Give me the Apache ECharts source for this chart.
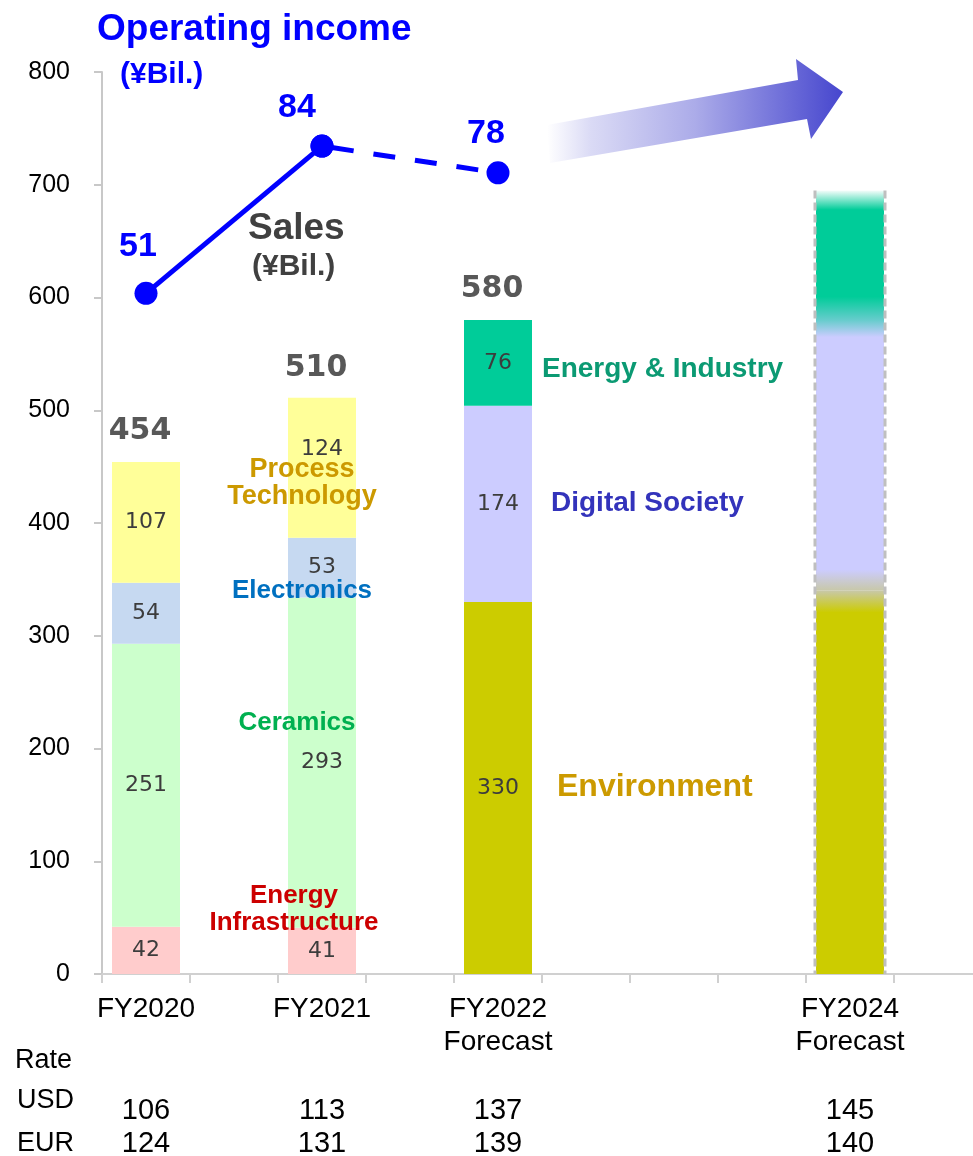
<!DOCTYPE html>
<html>
<head>
<meta charset="utf-8">
<script src="https://cdn.jsdelivr.net/npm/echarts@6/dist/echarts.min.js"></script>
<style>
  html, body { margin: 0; padding: 0; background: #fff; overflow: hidden; }
  #chart { width: 973px; height: 1156px; }
</style>
</head>
<body>
<div id="chart"></div>
<script>
// Fiscal periods (FY2023 has no figures)
const periods = ['FY2020', 'FY2021', 'FY2022\nForecast', '', 'FY2024\nForecast'];
const isForecast = [false, false, true, false, true];

// Sales by segment (¥Bil.) — former segments
const energyInfrastructure = [42, 41, null, null, null];
const ceramics = [251, 293, null, null, null];
const electronics = [54, 53, null, null, null];
const processTechnology = [107, 124, null, null, null];

// Sales by segment (¥Bil.) — new segments
const environment = [null, null, 330, null, 340];
const digitalSociety = [null, null, 174, null, 240];
const energyIndustry = [null, null, 76, null, 115];

// Reported sales totals (¥Bil.)
const salesTotal = [454, 510, 580, null, null];

// Operating income (¥Bil.)
const operatingIncome = [51, 84, 78, null, null];

// Exchange rates
const usdRate = [106, 113, 137, null, 145];
const eurRate = [124, 131, 139, null, 140];

// y-axis ticks
const salesMin = 0, salesMax = 800, salesStep = 100;

// Each period gets its own slot followed by a spacer slot
function toSlots(values, fill) {
  const out = [];
  values.forEach(v => { out.push(v); out.push(fill); });
  return out;
}

const chart = echarts.init(document.getElementById('chart'), null, { renderer: 'canvas' });

const SANS = '"Liberation Sans", Arial, sans-serif';
const VERD = '"DejaVu Sans", Verdana, sans-serif';
const BAR_W = 68;

function vFade(stops) {
  return new echarts.graphic.LinearGradient(0, 0, 0, 1,
    stops.map(s => ({ offset: s[0], color: s[1] })));
}

// Soft blended fills for the outlook bar
const outlookFill = {
  environment: vFade([[0, '#C8C8A8'], [0.057, '#CCCC00'], [1, '#CCCC00']]),
  digital: vFade([[0, '#66CCCC'], [0.063, '#CCCCFF'], [0.922, '#CCCCFF'], [1, '#C8C8A8']]),
  energy: vFade([[0, 'rgba(0,204,153,0.04)'], [0.15, '#00CC99'], [0.82, '#00CC99'], [1, '#66CCCC']])
};

const segLabel = {
  show: true, position: 'inside', color: '#3C3C3C',
  fontFamily: VERD, fontSize: 22
};

function segmentSeries(name, values, color, outlook, labelOffsets) {
  const data = values.map((v, i) => {
    if (v == null) return null;
    const item = { value: v };
    if (isForecast[i] && salesTotal[i] == null && outlook) {
      item.itemStyle = { color: outlook };
      item.label = { show: false };
    }
    if (labelOffsets && labelOffsets[i]) {
      item.label = { offset: labelOffsets[i] };
    }
    return item;
  });
  return {
    name, type: 'bar', stack: 'sales', barWidth: BAR_W,
    data: toSlots(data, null),
    itemStyle: { color },
    label: segLabel,
    z: 2
  };
}

const solidIncome = operatingIncome.map((v, i) => (i <= 1 ? v : null));
const dashedIncome = operatingIncome.map((v, i) => (i >= 1 ? v : null));

const incomeLabelOffsets = [[-8, 0], [-25, 0], [-12, 0]];
const incomeLabelDist = [18, 10, 11];

function incomeItems(values, showLabelIdx) {
  return toSlots(values.map((v, i) => {
    if (v == null) return null;
    return {
      value: v,
      label: {
        show: showLabelIdx.includes(i),
        offset: incomeLabelOffsets[i],
        distance: incomeLabelDist[i]
      }
    };
  }), null);
}

const incomeLabel = {
  position: 'top', color: '#0000FF', fontFamily: SANS,
  fontWeight: 'bold', fontSize: 34
};

// Outline around the outlook bar (periods with no reported total)
const outlineData = [];
periods.forEach((p, i) => {
  if (isForecast[i] && salesTotal[i] == null) {
    const sum = [environment, digitalSociety, energyIndustry]
      .reduce((a, arr) => a + (arr[i] || 0), 0);
    if (sum > 0) outlineData.push([i * 2, sum]);
  }
});

// Segment names written beside the bars
const segmentNotes = [
  { text: 'Process\nTechnology', x: 302, y: 483, color: '#CC9900', size: 27, lh: 27, align: 'center' },
  { text: 'Electronics', x: 302, y: 591, color: '#0070C0', size: 26, align: 'center' },
  { text: 'Ceramics', x: 297, y: 723, color: '#00B050', size: 26, align: 'center' },
  { text: 'Energy\nInfrastructure', x: 294, y: 909, color: '#CC0000', size: 26, lh: 27, align: 'center' },
  { text: 'Energy & Industry', x: 542, y: 369, color: '#0B9A73', size: 28, align: 'left' },
  { text: 'Digital Society', x: 551, y: 503, color: '#3333BB', size: 28, align: 'left' },
  { text: 'Environment', x: 557, y: 787, color: '#CC9A00', size: 32, align: 'left' }
];

const titleNotes = [
  { text: 'Operating income', x: 97, y: 30, color: '#0000FF', size: 37 },
  { text: '(¥Bil.)', x: 120, y: 75, color: '#0000FF', size: 30 },
  { text: 'Sales', x: 248, y: 229, color: '#404040', size: 37 },
  { text: '(¥Bil.)', x: 252, y: 267, color: '#404040', size: 30 },
  { text: 'Rate', x: 15, y: 1061, color: '#000000', size: 27, normal: true },
  { text: 'USD', x: 17, y: 1101, color: '#000000', size: 27, normal: true },
  { text: 'EUR', x: 17, y: 1144, color: '#000000', size: 27, normal: true }
];

const graphics = [];
segmentNotes.concat(titleNotes).forEach(n => {
  graphics.push({
    type: 'text', z: 100,
    style: {
      x: n.x, y: n.y, text: n.text, fill: n.color,
      fontFamily: SANS, fontWeight: n.normal ? 'normal' : 'bold',
      fontSize: n.size, lineHeight: n.lh || n.size + 2,
      align: n.align || 'left', verticalAlign: 'middle'
    }
  });
});

// Growth arrow toward the FY2024 outlook
graphics.push({
  type: 'polygon', z: 5,
  shape: { points: [[547, 125], [798, 80], [796, 59], [843, 92], [811, 139], [807, 119], [550, 163]] },
  style: {
    fill: new echarts.graphic.LinearGradient(0, 0, 1, 0, [
      { offset: 0, color: 'rgba(70,70,206,0)' },
      { offset: 0.15, color: 'rgba(70,70,206,0.2)' },
      { offset: 0.5, color: 'rgba(70,70,206,0.45)' },
      { offset: 1, color: 'rgba(70,70,206,1)' }
    ])
  }
});

const rateAxis = (values, offset) => ({
  type: 'category', position: 'bottom', offset,
  data: toSlots(values.map(v => (v == null ? '' : String(v))), ''),
  axisLine: { show: false }, axisTick: { show: false },
  axisLabel: { interval: 0, margin: 0, fontFamily: SANS, fontSize: 29, lineHeight: 29, color: '#000' }
});

const option = {
  animation: false,
  backgroundColor: '#ffffff',
  // fixed plot box; the last spacer slot runs off the right edge
  grid: { left: 102, top: 72, width: 880, height: 902, containLabel: false, outerBoundsMode: 'none' },
  xAxis: [
    {
      type: 'category',
      data: toSlots(periods, ''),
      axisLine: { lineStyle: { color: '#D0D0D0', width: 2 } },
      axisTick: { show: true, interval: 0, length: 9, lineStyle: { color: '#D0D0D0', width: 2 } },
      axisLabel: { interval: 0, margin: 19, fontFamily: SANS, fontSize: 28, lineHeight: 33, color: '#000' }
    },
    rateAxis(usdRate, 122),
    rateAxis(eurRate, 155)
  ],
  yAxis: [
    {
      type: 'value', min: salesMin, max: salesMax, interval: salesStep,
      axisLine: { show: true, lineStyle: { color: '#C8C8C8', width: 2 } },
      axisTick: { show: true, length: 8, lineStyle: { color: '#C8C8C8', width: 2 } },
      splitLine: { show: false },
      axisLabel: { margin: 32, fontFamily: SANS, fontSize: 25, color: '#000' }
    },
    {
      type: 'value', min: -101.5, max: 100.6, show: false,
      splitLine: { show: false }, alignTicks: false
    }
  ],
  graphic: graphics,
  series: [
    segmentSeries('Energy Infrastructure', energyInfrastructure, '#FFCCCC'),
    segmentSeries('Ceramics', ceramics, '#CCFFCC'),
    segmentSeries('Electronics', electronics, '#C6D9F1'),
    segmentSeries('Process Technology', processTechnology, '#FFFF99', null, [null, [0, -18]]),
    segmentSeries('Environment', environment, '#CCCC00', outlookFill.environment),
    segmentSeries('Digital Society', digitalSociety, '#CCCCFF', outlookFill.digital),
    segmentSeries('Energy & Industry', energyIndustry, '#00CC99', outlookFill.energy),
    {
      name: 'Sales total', type: 'scatter', symbolSize: 1,
      itemStyle: { color: 'rgba(0,0,0,0)' },
      data: toSlots(salesTotal, null),
      label: {
        show: true, position: 'top', distance: 15, offset: [-6, 0],
        color: '#2E2E2E', fontFamily: VERD, fontWeight: 'bold', fontSize: 30
      },
      z: 6
    },
    {
      name: 'Outlook outline', type: 'custom', data: outlineData, z: 4,
      renderItem(params, api) {
        const top = api.coord([api.value(0), api.value(1)]);
        const base = api.coord([api.value(0), 0]);
        const half = BAR_W / 2 + 1;
        const mk = x => ({
          type: 'line',
          shape: { x1: x, y1: top[1], x2: x, y2: base[1] },
          style: { stroke: '#BFBFBF', lineWidth: 3, lineDash: [8, 4] }
        });
        return { type: 'group', children: [mk(top[0] - half), mk(top[0] + half)] };
      }
    },
    {
      name: 'Operating income', type: 'line', yAxisIndex: 1,
      data: incomeItems(solidIncome, [0, 1]), connectNulls: true,
      symbol: 'circle', symbolSize: 23,
      itemStyle: { color: '#0000FF' },
      lineStyle: { color: '#0000FF', width: 5 },
      label: incomeLabel, z: 10
    },
    {
      name: 'Operating income forecast', type: 'line', yAxisIndex: 1,
      data: incomeItems(dashedIncome, [2]), connectNulls: true,
      symbol: 'circle', symbolSize: 23,
      itemStyle: { color: '#0000FF' },
      lineStyle: { color: '#0000FF', width: 5, type: [22, 20], dashOffset: -10 },
      label: incomeLabel, z: 9
    }
  ]
};

chart.setOption(option);
</script>
</body>
</html>
